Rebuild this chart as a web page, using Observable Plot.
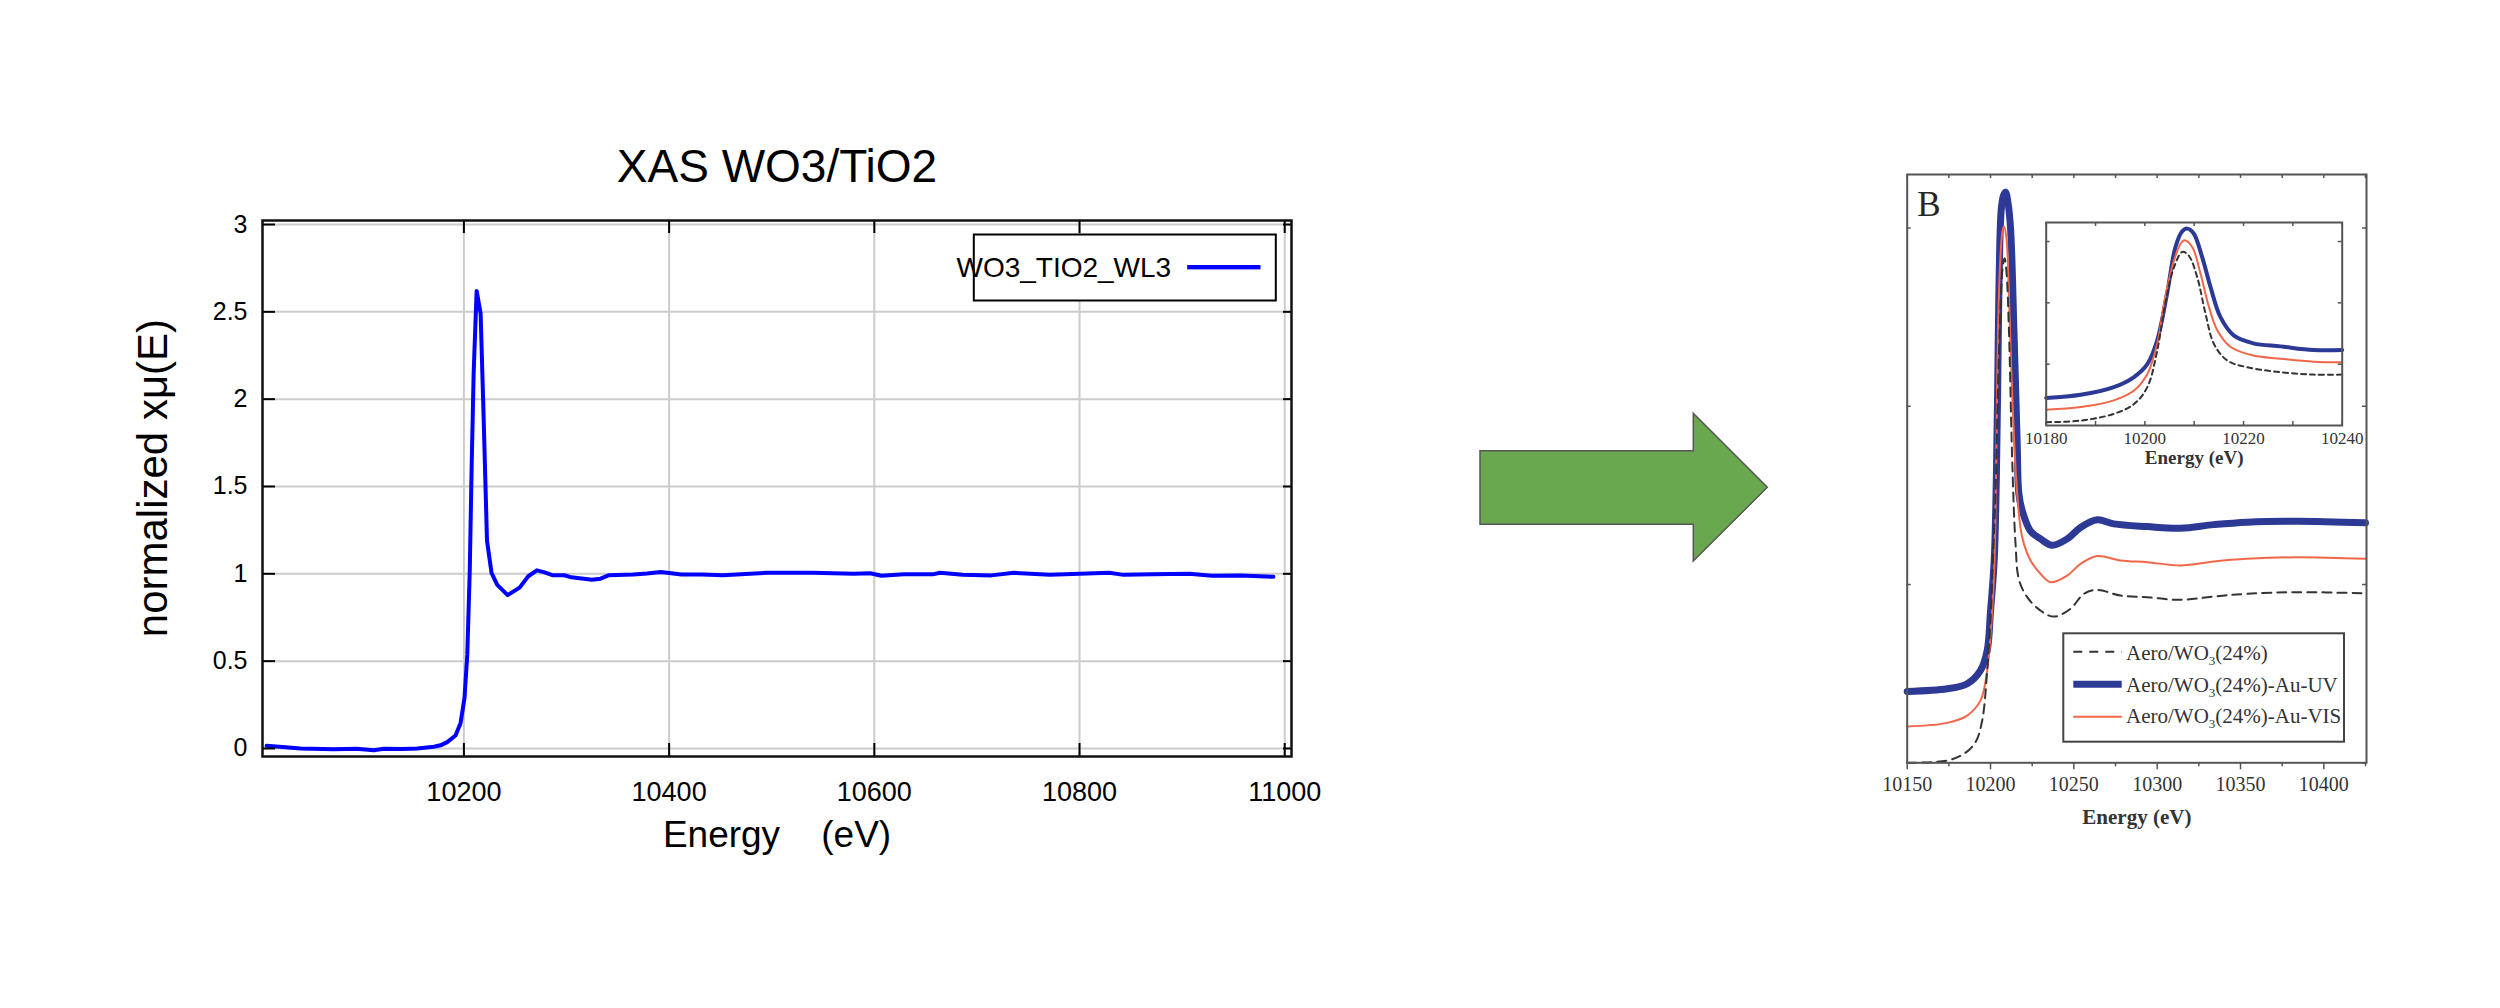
<!DOCTYPE html>
<html><head><meta charset="utf-8">
<script src="https://cdn.jsdelivr.net/npm/d3@7"></script>
<script src="https://cdn.jsdelivr.net/npm/@observablehq/plot@0.6"></script>
<style>
html,body{margin:0;padding:0;background:#fff;width:2500px;height:1008px;overflow:hidden;}
#page{position:relative;width:2500px;height:1008px;background:#fff;}
#page > svg, #page > figure{position:absolute;margin:0;}
</style></head><body><div id="page"></div>
<script>
// ---------- Left chart data ----------
const xasTitle = "XAS WO3/TiO2";
const xasXLabel = "Energy\u00a0\u00a0\u00a0\u00a0(eV)";
const xasYLabel = "normalized x\u03bc(E)";
const xasSeriesName = "WO3_TIO2_WL3";
const xasXTicks = [10200, 10400, 10600, 10800, 11000];
const xasYTicks = [0, 0.5, 1, 1.5, 2, 2.5, 3];
const xasYTickLabels = ["0", "0.5", "1", "1.5", "2", "2.5", "3"];
const xasEnergy = [10007.7,10020,10040.8,10073.3,10095,10112.2,10121.9,10140,10154.5,10170.7,10177.2,10183.7,10191.8,10196.7,10200.6,10203.3,10205.7,10207.5,10209.5,10212.4,10216.3,10219.1,10222.5,10226.9,10232.5,10242.6,10254.3,10262.7,10271.1,10277.8,10286.2,10298,10304.7,10324.8,10333.2,10341.5,10365,10378.5,10391.9,10412,10432,10452.3,10479,10495.8,10539.5,10579.7,10596,10607,10629,10657,10664,10686,10714,10736,10771,10800,10829,10843,10871,10907,10929,10957,10989];
const xasMu = [0.015,0.01,0.0,-0.004,-0.002,-0.01,-0.002,-0.003,0.0,0.01,0.018,0.036,0.074,0.145,0.29,0.54,1.02,1.6,2.15,2.62,2.49,1.92,1.19,1.006,0.937,0.878,0.921,0.986,1.02,1.01,0.992,0.992,0.98,0.966,0.972,0.992,0.996,1.002,1.01,0.996,0.996,0.992,1.0,1.006,1.006,1.0,1.003,0.989,0.997,0.997,1.006,0.994,0.991,1.006,0.994,1.0,1.006,0.994,0.997,1.0,0.989,0.991,0.983];

// ---------- Right chart data (main panel) ----------
const panelLetter = "B";
const rXLabel = "Energy (eV)";
const rXTicks = [10150, 10200, 10250, 10300, 10350, 10400];
const rXMinorTicks = [10175, 10225, 10275, 10325, 10375, 10425];
const rYTicks = [0, 1, 2, 3];
const legendLabels = [["Aero/WO", "3", "(24%)"], ["Aero/WO", "3", "(24%)-Au-UV"], ["Aero/WO", "3", "(24%)-Au-VIS"]];

const refE = [10150,10174,10184,10191,10195,10198,10200,10201.4,10203,10204.4,10206,10207.3,10208.4,10209.6,10211,10213,10215,10217,10222,10230,10238,10248,10256,10264,10278,10294,10314,10334,10354,10384,10425];
const refV = [0.0,0.013,0.05,0.116,0.237,0.518,0.80,1.135,1.51,2.07,2.55,2.78,2.83,2.75,2.44,1.70,1.23,1.03,0.929,0.854,0.82,0.864,0.948,0.97,0.938,0.929,0.914,0.933,0.948,0.957,0.951];
const uvE = [10150,10174,10186,10194,10198,10200,10202.2,10203.5,10204.3,10205,10206.4,10207.7,10209,10210.5,10212,10214,10216,10217,10219,10224,10230,10237,10246,10254,10264,10274,10294,10314,10334,10354,10384,10425];
const uvV = [0.40,0.415,0.443,0.518,0.63,0.85,1.135,1.6,2.1,2.63,3.10,3.18,3.20,3.14,3.0,2.44,1.79,1.51,1.415,1.30,1.256,1.22,1.256,1.32,1.363,1.34,1.325,1.316,1.336,1.35,1.355,1.346];
const visE = [10150,10174,10186,10194,10198,10201,10202.4,10203.3,10204.2,10205.5,10207,10208,10209.5,10211,10213,10216,10219,10224,10230,10236,10246,10254,10264,10278,10294,10314,10334,10354,10384,10425];
const visV = [0.204,0.224,0.265,0.35,0.52,0.854,1.135,1.6,2.26,2.75,2.97,3.01,2.95,2.63,2.07,1.51,1.265,1.135,1.06,1.013,1.05,1.116,1.16,1.135,1.125,1.107,1.129,1.144,1.153,1.144];

// ---------- Inset data ----------
const iXTicks = [10180, 10200, 10220, 10240];
const iXMinorTicks = [10190, 10210, 10230];
const iYTicks = [1, 2, 3];
const iRefE = [10180,10187,10193.7,10197.8,10200.5,10202.5,10204,10205.9,10207.6,10208.9,10210.6,10212.3,10214,10216.7,10220.7,10227.5,10234.2,10240];
const iRefV = [0.054,0.08,0.19,0.35,0.625,1.22,1.93,2.58,2.83,2.77,2.42,1.82,1.33,1.06,0.95,0.87,0.83,0.83];
const iUvE = [10180,10187,10193.7,10197.8,10200.5,10202.5,10204.5,10206.2,10207.6,10208.6,10209.9,10211.6,10213.3,10215.3,10218,10222,10227.5,10234.2,10240];
const iUvV = [0.45,0.50,0.625,0.79,1.0,1.39,2.15,2.91,3.17,3.21,3.13,2.75,2.26,1.77,1.47,1.34,1.29,1.23,1.23];
const iVisE = [10180,10187,10193.7,10197.8,10200.5,10202.5,10204,10205.9,10207.2,10208,10209.6,10211.3,10213,10214.7,10217.4,10222,10227.5,10234.2,10240];
const iVisV = [0.256,0.30,0.41,0.57,0.84,1.33,2.04,2.69,2.96,3.02,2.91,2.47,1.93,1.55,1.28,1.14,1.09,1.04,1.03];

const zip = (E, V) => E.map((e, i) => ({e, v: V[i]}));
const plain = d => String(d);
const page = document.getElementById("page");

function place(el, left, top) { el.style.left = left + "px"; el.style.top = top + "px"; page.appendChild(el); }

// ---------- Left chart ----------
{
  const W = 1400, H = 900, ml = 262, mr = 109, mt = 220, mb = 144;
  const xd = [10003.7, 11006.6], yd = [-0.046, 3.023];
  const ky = (H - mt - mb) / (yd[1] - yd[0]);
  const kx = (W - ml - mr) / (xd[1] - xd[0]);
  const fr = {left: ml, right: W - mr, top: mt, bottom: H - mb};
  const p = Plot.plot({
    width: W, height: H, marginLeft: ml, marginRight: mr, marginTop: mt, marginBottom: mb,
    x: {domain: xd}, y: {domain: yd},
    style: {background: "transparent", fontFamily: "'Liberation Sans', Arial, sans-serif", color: "#000", overflow: "visible"},
    marks: [
      Plot.gridX(xasXTicks, {stroke: "#cccccc", strokeOpacity: 1, strokeWidth: 2}),
      Plot.gridY(xasYTicks, {stroke: "#cccccc", strokeOpacity: 1, strokeWidth: 2}),
      Plot.line(zip(xasEnergy, xasMu), {x: "e", y: "v", stroke: "#0000ff", strokeWidth: 4, strokeLinejoin: "round"}),
      Plot.ruleX(xasXTicks, {x: d => d, y1: yd[0], y2: yd[0] + 13 / ky, stroke: "#000", strokeWidth: 2}),
      Plot.ruleX(xasXTicks, {x: d => d, y1: yd[1] - 13 / ky, y2: yd[1], stroke: "#000", strokeWidth: 2}),
      Plot.ruleY(xasYTicks, {y: d => d, x1: xd[0], x2: xd[0] + 13 / kx, stroke: "#000", strokeWidth: 2}),
      Plot.ruleY(xasYTicks, {y: d => d, x1: xd[1] - 8 / kx, x2: xd[1], stroke: "#000", strokeWidth: 2}),
      Plot.frame({stroke: "#111", strokeWidth: 2.5}),
      Plot.axisX(xasXTicks, {tickSize: 0, tickPadding: 25, fontSize: 27, label: null, fill: "#000", tickFormat: plain}),
      Plot.axisY(xasYTicks, {tickSize: 0, tickPadding: 15, fontSize: 25, label: null, fill: "#000",
        tickFormat: d => xasYTickLabels[xasYTicks.indexOf(d)]}),
      Plot.text([xasTitle], {text: d => d, frameAnchor: "top", dy: -38.3, lineAnchor: "bottom", fontSize: 46, fill: "#000"}),
      Plot.text([xasXLabel], {text: d => d, frameAnchor: "bottom", dy: 90.7, lineAnchor: "bottom", fontSize: 37, fill: "#000"}),
      Plot.text([xasYLabel], {text: d => d, frameAnchor: "left", dx: -95.3, dy: 636.7 - (fr.top + fr.bottom) / 2,
        rotate: -90, textAnchor: "start", lineAnchor: "bottom", fontSize: 42, fill: "#000"}),
      // legend box
      Plot.frame({insetLeft: 973.3 - fr.left, insetRight: fr.right - 1275.3, insetTop: 234 - fr.top, insetBottom: fr.bottom - 300,
        fill: "#fff", stroke: "#000", strokeWidth: 2}),
      Plot.frame({insetLeft: 1186.7 - fr.left, insetRight: fr.right - 1260, insetTop: 264.5 - fr.top, insetBottom: fr.bottom - 268.9,
        fill: "#0000ff", stroke: "none"}),
      Plot.text([xasSeriesName], {text: d => d, frameAnchor: "top-right", dx: -(fr.right - 1170.7), dy: 276.7 - fr.top,
        textAnchor: "end", lineAnchor: "bottom", fontSize: 28, fill: "#000"})
    ]
  });
  place(p, 0, 0);
}

// ---------- Right chart (main) ----------
const serif = "'Liberation Serif', 'Times New Roman', serif";
{
  const W = 650, H = 800, ml = 106.7, mr = 84, mt = 74, mb = 137.7;
  const xd = [10150, 10425.6], yd = [0, 3.30];
  const ky = (H - mt - mb) / (yd[1] - yd[0]);
  const kx = (W - ml - mr) / (xd[1] - xd[0]);
  const allX = rXTicks.concat(rXMinorTicks);
  const p = Plot.plot({
    width: W, height: H, marginLeft: ml, marginRight: mr, marginTop: mt, marginBottom: mb,
    x: {domain: xd}, y: {domain: yd, axis: null},
    style: {background: "transparent", fontFamily: serif, color: "#333", overflow: "visible"},
    marks: [
      Plot.line(zip(uvE, uvV), {x: "e", y: "v", stroke: "#2c3a96", strokeWidth: 7, curve: "catmull-rom", strokeLinejoin: "round"}),
      Plot.line(zip(visE, visV), {x: "e", y: "v", stroke: "#f26649", strokeWidth: 2, curve: "catmull-rom"}),
      Plot.line(zip(refE, refV), {x: "e", y: "v", stroke: "#333", strokeWidth: 2, strokeDasharray: "9,6", curve: "catmull-rom"}),
      Plot.ruleX(rXTicks, {x: d => d, y1: yd[0] - 7 / ky, y2: yd[0], stroke: "#555", strokeWidth: 1.5}),
      Plot.ruleX(rXMinorTicks, {x: d => d, y1: yd[0] - 4 / ky, y2: yd[0], stroke: "#555", strokeWidth: 1.5}),
      Plot.ruleX(allX, {x: d => d, y1: yd[1] - 4 / ky, y2: yd[1], stroke: "#555", strokeWidth: 1.5}),
      Plot.ruleY(rYTicks, {y: d => d, x1: xd[0], x2: xd[0] + 4 / kx, stroke: "#555", strokeWidth: 1.5}),
      Plot.ruleY(rYTicks, {y: d => d, x1: xd[1] - 4 / kx, x2: xd[1], stroke: "#555", strokeWidth: 1.5}),
      Plot.frame({stroke: "#555", strokeWidth: 2}),
      Plot.axisX(rXTicks, {tickSize: 0, tickPadding: 13.5, fontSize: 20, label: null, fill: "#333", fontFamily: serif, tickFormat: plain}),
      Plot.text([rXLabel], {text: d => d, frameAnchor: "bottom", dy: 60.7, lineAnchor: "bottom", fontSize: 21, fontWeight: "bold", fill: "#333", fontFamily: serif}),
      Plot.text([panelLetter], {text: d => d, frameAnchor: "top-left", dx: 10, dy: 41, textAnchor: "start", lineAnchor: "bottom", fontSize: 35, fill: "#2a2520", fontFamily: serif})
    ]
  });
  place(p, 1800, 100);
}

// ---------- Inset ----------
{
  const W = 380, H = 280, ml = 45.7, mr = 38.3, mt = 22, mb = 55;
  const xd = [10180, 10240], yd = [0, 3.31];
  const ky = (H - mt - mb) / (yd[1] - yd[0]);
  const kx = (W - ml - mr) / (xd[1] - xd[0]);
  const allX = iXTicks.concat(iXMinorTicks);
  const p = Plot.plot({
    width: W, height: H, marginLeft: ml, marginRight: mr, marginTop: mt, marginBottom: mb,
    x: {domain: xd}, y: {domain: yd, axis: null},
    style: {background: "transparent", fontFamily: serif, color: "#333", overflow: "visible"},
    marks: [
      Plot.frame({fill: "#fff", stroke: "none"}),
      Plot.line(zip(iUvE, iUvV), {x: "e", y: "v", stroke: "#2c3a96", strokeWidth: 4, curve: "catmull-rom"}),
      Plot.line(zip(iVisE, iVisV), {x: "e", y: "v", stroke: "#f26649", strokeWidth: 2, curve: "catmull-rom"}),
      Plot.line(zip(iRefE, iRefV), {x: "e", y: "v", stroke: "#333", strokeWidth: 2, strokeDasharray: "5,4", curve: "catmull-rom"}),
      Plot.ruleX(allX, {x: d => d, y1: yd[0], y2: yd[0] + 4 / ky, stroke: "#555", strokeWidth: 1.5}),
      Plot.ruleX(allX, {x: d => d, y1: yd[1] - 4 / ky, y2: yd[1], stroke: "#555", strokeWidth: 1.5}),
      Plot.ruleY(iYTicks, {y: d => d, x1: xd[0], x2: xd[0] + 4 / kx, stroke: "#555", strokeWidth: 1.5}),
      Plot.ruleY(iYTicks, {y: d => d, x1: xd[1] - 4 / kx, x2: xd[1], stroke: "#555", strokeWidth: 1.5}),
      Plot.frame({stroke: "#555", strokeWidth: 2}),
      Plot.axisX(iXTicks, {tickSize: 0, tickPadding: 6.2, fontSize: 17, label: null, fill: "#333", fontFamily: serif, tickFormat: plain}),
      Plot.text([rXLabel], {text: d => d, frameAnchor: "bottom", dy: 38, lineAnchor: "bottom", fontSize: 19, fontWeight: "bold", fill: "#333", fontFamily: serif})
    ]
  });
  place(p, 2000, 200);
}

// ---------- Overlay: arrow + right legend ----------
{
  const svg = d3.create("svg").attr("width", 2500).attr("height", 1008)
    .style("left", "0px").style("top", "0px").style("pointer-events", "none");
  svg.append("polygon")
    .attr("points", "1480,450.7 1693.3,450.7 1693.3,413.3 1767.3,487.3 1693.3,561 1693.3,524.3 1480,524.3")
    .attr("fill", "#6aa84f").attr("stroke", "#555").attr("stroke-width", 1.5);
  const g = svg.append("g");
  g.append("rect").attr("x", 2063.3).attr("y", 633.3).attr("width", 280.7).attr("height", 108.4)
    .attr("fill", "#fff").attr("stroke", "#444").attr("stroke-width", 2);
  const sampleY = [651.7, 684.3, 716.7];
  const textY = [660, 691.7, 723.3];
  const styles = [
    {stroke: "#333", w: 2, dash: "9,7"},
    {stroke: "#2c3a96", w: 7, dash: null},
    {stroke: "#f26649", w: 2, dash: null}
  ];
  legendLabels.forEach((lab, i) => {
    const ln = g.append("line").attr("x1", 2073.3).attr("x2", 2121.7).attr("y1", sampleY[i]).attr("y2", sampleY[i])
      .attr("stroke", styles[i].stroke).attr("stroke-width", styles[i].w);
    if (styles[i].dash) ln.attr("stroke-dasharray", styles[i].dash);
    const t = g.append("text").attr("x", 2126).attr("y", textY[i]).attr("font-family", serif)
      .attr("font-size", 21).attr("fill", "#333");
    t.append("tspan").text(lab[0]);
    t.append("tspan").attr("font-size", 13).attr("dy", 5).text(lab[1]);
    t.append("tspan").attr("dy", -5).text(lab[2]);
  });
  place(svg.node(), 0, 0);
}
</script>
</body></html>
